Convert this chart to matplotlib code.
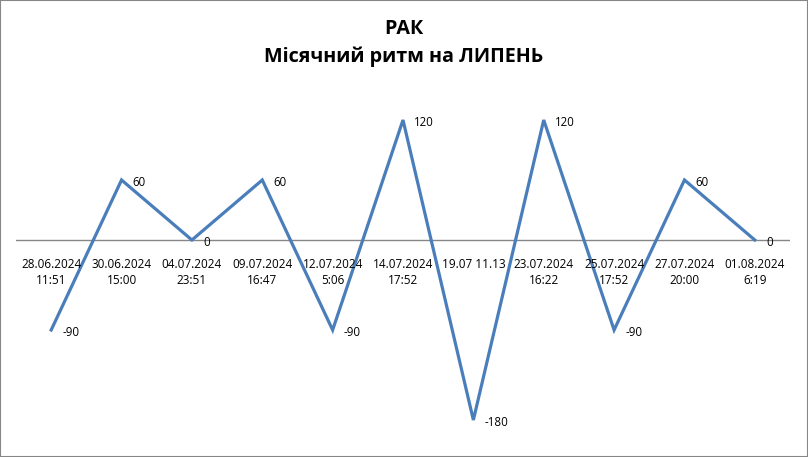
import matplotlib
matplotlib.use("Agg")
import matplotlib.pyplot as plt
from matplotlib.patches import Rectangle

plt.rcParams['font.family'] = ['Open Sans', 'DejaVu Sans']

title = "РАК\nМісячний ритм на ЛИПЕНЬ"
dates = ["28.06.2024\n11:51", "30.06.2024\n15:00", "04.07.2024\n23:51",
         "09.07.2024\n16:47", "12.07.2024\n5:06", "14.07.2024\n17:52",
         "19.07 11.13", "23.07.2024\n16:22", "25.07.2024\n17:52",
         "27.07.2024\n20:00", "01.08.2024\n6:19"]
values = [-90, 60, 0, 60, -90, 120, -180, 120, -90, 60, 0]

W, H = 808, 457
fig = plt.figure(figsize=(W / 100, H / 100), dpi=100)
# axes: x from 16 to 790 px, y=0 at 240 px, 1 unit per px
y_top, y_bot = 150, -200
ax = fig.add_axes([16 / W, (H - (240 - y_bot)) / H, 774 / W, (y_top - y_bot) / H])
ax.set_xlim(-0.5, len(values) - 0.5)
ax.set_ylim(y_bot, y_top)
for s in ax.spines.values():
    s.set_visible(False)
ax.set_xticks([])
ax.set_yticks([])
ax.axhline(0, color='#868686', lw=1)

xs = list(range(len(values)))
ax.plot(xs, values, color='#4A7EBB', lw=2.3, solid_joinstyle='miter')

for x, v in zip(xs, values):
    ax.annotate(str(v), (x, v), xytext=(8, -2), textcoords='offset points',
                ha='left', va='center', fontsize=8.3)

for x, lab in zip(xs, dates):
    ax.annotate(lab, (x, 0), xytext=(0, -13), textcoords='offset points',
                ha='center', va='top', fontsize=8.5, linespacing=1.25)

fig.text(0.5, 1 - 43 / H, title, ha='center', va='center', fontsize=14.2,
         fontweight='bold', linespacing=1.45)

fig.patches.append(Rectangle((0, 0), 1, 1, transform=fig.transFigure,
                             fill=False, edgecolor='#868686', lw=1.5))

fig.savefig("out.png", dpi=100)
